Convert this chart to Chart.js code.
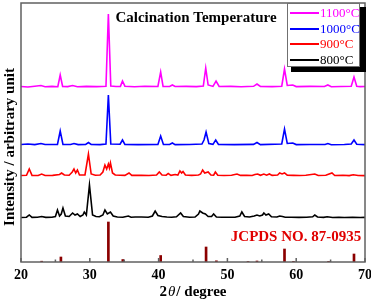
<!DOCTYPE html>
<html>
<head>
<meta charset="utf-8">
<script src="https://cdn.jsdelivr.net/npm/chart.js@4.4.1/dist/chart.umd.min.js"></script>
<style>
  html, body { margin: 0; padding: 0; background: #fff; }
  #wrap { width: 371px; height: 299px; }
</style>
</head>
<body>
<div id="wrap"><canvas id="c" width="371" height="299"></canvas></div>
<script>
// series labels (legend order) and the offset each pattern is stacked at
const labels = ["1100°C", "1000°C", "900°C", "800°C"];
const offsets = [175, 117, 86, 44];

// 1100 C
const x1100 = [20,21,22,22.9,23.5,24.5,25.35,25.7,26.05,26.8,27.5,28.2,29.5,31,32.35,32.7,33.05,33.8,34.45,34.75,35.1,36.5,38,39.9,40.3,40.65,41.6,42.0,42.4,44,45.5,46.5,46.85,47.2,47.9,48.35,48.8,50.5,52,53.8,54.3,54.8,56.5,57.9,58.3,58.7,59.5,60,62,64.1,64.6,65.1,66.5,68.0,68.4,68.8,69.3,70];
const y1100 = [0.5,0,0.8,1.5,0.3,0.6,0.3,12,0.5,0.4,1.5,0.3,0.6,0.4,0.8,73,1,0.5,0.6,6,0.8,0.3,0.7,0.5,15,0.6,0.5,2,0.5,0.6,0.4,1,19,2,0.6,6,0.5,0.6,0.3,0.7,3,0.5,0.4,0.8,18,1.5,2,0.4,0.6,0.5,2,0.3,0.5,0.8,10,0.8,0.4,0.5];

// 1000 C
const x1000 = [20,21,22,22.9,23.5,25.3,25.7,26.1,27.2,27.7,28.3,29.4,29.8,30.2,31.5,32.35,32.7,33.05,34.4,34.75,35.1,37,39.9,40.3,40.7,41.6,42.0,42.4,44.5,46.3,46.6,46.9,47.3,47.9,48.3,48.7,51,53.8,54.3,54.8,57.9,58.3,58.7,59.5,60,62,64.2,64.6,65.1,67,68.0,68.4,68.8,70];
const y1000 = [0.5,1,0.4,1.5,0.5,0.5,14,0.6,0.5,1.5,0.4,0.6,2.5,0.5,0.4,1,50,1,0.8,5,0.6,0.4,0.6,9,0.6,0.5,2,0.4,0.5,1,5,13,1.5,0.6,5,0.5,0.4,0.6,2.5,0.4,1,16,1.5,2,0.4,0.5,0.5,1.5,0.3,0.5,1,5,0.7,0.4];

// 900 C
const x900 = [20,20.8,21.2,21.6,22.5,23.0,23.5,24.6,25.6,25.9,26.3,27.0,27.45,27.7,27.95,28.2,28.5,29.3,29.8,30.2,30.8,31.5,31.9,32.2,32.45,32.7,32.85,33.0,33.3,33.7,34.4,35.1,35.7,36.1,37.5,38.6,39.7,40.1,40.5,41.1,41.4,41.8,42.4,42.8,43.1,43.35,43.55,43.9,44.8,45.8,46.1,46.4,46.7,47.2,47.6,48.0,48.25,48.6,49.5,50.6,51.4,51.9,52.8,53.6,54.0,54.4,54.8,55.3,55.7,56.1,56.5,57.3,57.6,57.95,58.3,58.7,59.6,60.5,61.4,62.7,63.2,64.3,65.2,65.6,66.8,67.7,68.3,69,70];
const y900 = [0.5,0.8,7,0.6,0.5,2,0.5,0.6,1.5,3,1,0.8,4,7,3,6,1,1,22,2,0.7,1,4,11,7,12,8,13,3,1,0.8,0.6,3,0.6,0.8,0.5,1,4,1,0.8,2.5,0.7,1.5,1,5,3,4.5,1,0.6,1,2,6,3,4,1,0.8,4,0.7,0.5,0.7,2,0.6,0.7,0.5,1.5,2,0.7,2,0.8,2,0.6,1,3,2,3,0.8,0.6,0.5,0.8,2,0.5,0.7,3,0.5,0.7,0.4,1.2,0.5,0.4];

// 800 C
const x800 = [20,20.8,21.2,21.6,22.4,23.0,23.6,24.5,25.0,25.3,25.6,25.85,26.1,26.45,27.0,27.5,27.85,28.2,28.6,29.0,29.2,29.5,29.95,30.4,30.9,31.4,31.9,32.2,32.55,33.0,33.4,34.0,34.8,35.6,36.0,36.6,37.5,38.5,39.1,39.5,39.9,40.5,41.2,41.9,42.6,43.2,43.6,44.5,45.3,45.8,46.0,46.4,46.8,47.2,47.7,48.0,48.4,49.2,50.2,51.1,51.8,52.1,52.5,53.2,53.9,54.3,54.7,55.1,55.3,55.6,56.0,56.4,57.2,57.6,58.0,58.4,59.3,60.4,61.5,62.4,62.7,63.1,64.0,64.5,65.3,66.2,67.0,68.2,69.3,70];
const y800 = [0.5,0.8,3,0.6,0.8,1.5,0.6,0.8,1.5,8,2,4,10,2,1.5,5,3,4,1.5,3,6,3,33,3,1.5,1.2,3,8,4,6,2,1,0.8,2,0.8,1,1,0.7,2,7,2.5,1.5,1,0.8,1.2,5,1.5,0.8,1,4,7,5,4,1.5,1.5,4,1,0.8,0.8,0.8,2,6,1.5,1,2,3,2,3,5,3,4,1.2,1,2,1.5,0.8,0.8,0.6,0.8,1.2,3,1,0.6,1.2,0.5,0.8,0.5,0.7,0.5,0.6];

// JCPDS 87-0935 reference lines
const refX = [23.0,25.8,32.7,34.8,40.3,46.9,48.4,53.0,54.3,58.3,59.6,64.7,68.4];
const refY = [0.8,5,40,2.5,6.5,15,1.2,0.5,1,13,0.6,0.6,8];

const colors = ["#ff00ff", "#0000ff", "#ff0000", "#000000"];
const seriesX = [x1100, x1000, x900, x800];
const seriesY = [y1100, y1000, y900, y800];

const serif = "'Liberation Serif', 'Times New Roman', serif";

function pts(xs, ys, off) {
  return xs.map((v, i) => ({ x: v, y: ys[i] + off }));
}

const datasets = labels.map((l, i) => ({
  type: "line",
  label: l,
  data: pts(seriesX[i], seriesY[i], offsets[i]),
  borderColor: colors[i],
  borderWidth: 1.6,
  pointRadius: 0,
  tension: 0,
  fill: false,
}));
datasets.push({
  type: "bar",
  label: "JCPDS NO. 87-0935",
  data: pts(refX, refY, 0),
  backgroundColor: "#8b0000",
  barThickness: 2,
});

const decor = {
  id: "decor",
  afterDraw(chart) {
    const ctx = chart.ctx;
    const a = chart.chartArea;
    const xs = chart.scales.x;
    ctx.save();
    // frame
    ctx.strokeStyle = "#606060";
    ctx.lineWidth = 1.5;
    ctx.strokeRect(a.left, a.top, a.right - a.left, a.bottom - a.top);
    // inward ticks
    for (let v = 20; v <= 70; v += 5) {
      const px = xs.getPixelForValue(v);
      const len = v % 10 === 0 ? 4 : 2.5;
      ctx.beginPath();
      ctx.moveTo(px, a.bottom);
      ctx.lineTo(px, a.bottom - len);
      ctx.stroke();
    }
    // texts
    ctx.textAlign = "center";
    ctx.textBaseline = "middle";
    ctx.fillStyle = "#000";
    ctx.font = "bold 15px " + serif;
    ctx.fillText("Calcination Temperature", 196, 18);
    ctx.fillStyle = "#e00000";
    ctx.fillText("JCPDS NO. 87-0935", 296, 237);
    // x title with italic theta
    ctx.fillStyle = "#000";
    const p1 = "2", p2 = "θ", p3 = "/ degree";
    ctx.font = "bold 15px " + serif;
    const w1 = ctx.measureText(p1).width, w3 = ctx.measureText(p3).width;
    ctx.font = "italic 15px " + serif;
    const w2 = ctx.measureText(p2).width;
    let sx = 193 - (w1 + w2 + w3 + 2) / 2;
    ctx.textAlign = "left";
    ctx.font = "bold 15px " + serif;
    ctx.fillText(p1, sx, 292);
    ctx.font = "italic 15px " + serif;
    ctx.fillText(p2, sx + w1 + 1, 292);
    ctx.font = "bold 15px " + serif;
    ctx.fillText(p3, sx + w1 + w2 + 2, 292);
    // y title
    ctx.save();
    ctx.translate(10, 147);
    ctx.rotate(-Math.PI / 2);
    ctx.textAlign = "center";
    ctx.font = "bold 15px " + serif;
    ctx.fillText("Intensity / arbitrary unit", 0, 0);
    ctx.restore();
    // legend box with shadow
    ctx.fillStyle = "#000";
    ctx.fillRect(291, 7, 75, 65);
    ctx.fillStyle = "#fff";
    ctx.fillRect(287, 3, 73, 64);
    ctx.strokeStyle = "#707070";
    ctx.lineWidth = 1;
    ctx.strokeRect(287.5, 3.5, 72, 63);
    const rows = [13, 29, 44, 60];
    ctx.font = "13px " + serif;
    ctx.textAlign = "left";
    labels.forEach((l, i) => {
      ctx.strokeStyle = colors[i];
      ctx.lineWidth = 2;
      ctx.beginPath();
      ctx.moveTo(290, rows[i]);
      ctx.lineTo(319, rows[i]);
      ctx.stroke();
      ctx.fillStyle = colors[i];
      ctx.fillText(l, 320, rows[i] + 1);
    });
    ctx.restore();
  },
};

new Chart(document.getElementById("c"), {
  type: "line",
  data: { datasets: datasets },
  options: {
    responsive: false,
    animation: false,
    layout: { padding: { left: 21, right: 6, top: 3, bottom: 0 } },
    plugins: { legend: { display: false }, tooltip: { enabled: false } },
    scales: {
      x: {
        type: "linear",
        min: 20,
        max: 70,
        offset: false,
        grid: { display: false, drawTicks: false },
        border: { display: false },
        ticks: {
          stepSize: 10,
          padding: 5,
          color: "#000",
          font: { family: serif, size: 14, weight: "bold" },
        },
        afterFit: (s) => {
          s.height = 37;
          s.paddingLeft = 0;
          s.paddingRight = 0;
        },
      },
      y: {
        display: false,
        min: 0,
        max: 259,
      },
    },
  },
  plugins: [decor],
});
</script>
</body>
</html>
